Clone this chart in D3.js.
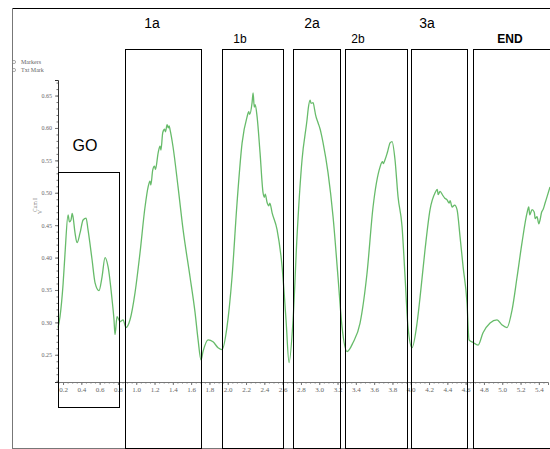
<!DOCTYPE html>
<html>
<head>
<meta charset="utf-8">
<script src="https://cdn.jsdelivr.net/npm/d3@7"></script>
<style>
  body { margin: 0; background: #fff; }
  svg { display: block; }
</style>
</head>
<body>
<svg id="chart"></svg>
<script>
// trace: time (x) and current (y)
const timeVals = [0.145, 0.167, 0.200, 0.222, 0.255, 0.270, 0.287, 0.300, 0.309, 0.331, 0.353, 0.386, 0.419, 0.452,
  0.473, 0.517, 0.550, 0.593, 0.626, 0.659, 0.692, 0.736, 0.757, 0.768, 0.790, 0.823, 0.856, 0.888, 0.932, 0.987,
  1.041, 1.096, 1.130, 1.150, 1.160, 1.180, 1.200, 1.210, 1.240, 1.260, 1.270, 1.290, 1.310, 1.320, 1.337, 1.350,
  1.360, 1.370, 1.402, 1.457, 1.512, 1.588, 1.643, 1.676, 1.708, 1.730, 1.785, 1.839, 1.894, 1.938, 1.992, 2.047,
  2.102, 2.157, 2.211, 2.230, 2.240, 2.266, 2.277, 2.290, 2.300, 2.321, 2.353, 2.386, 2.400, 2.410, 2.430, 2.450,
  2.460, 2.485, 2.539, 2.594, 2.637, 2.670, 2.714, 2.757, 2.812, 2.867, 2.880, 2.900, 2.910, 2.932, 2.950, 2.960,
  2.987, 3.010, 3.020, 3.042, 3.096, 3.151, 3.205, 3.249, 3.304, 3.370, 3.446, 3.523, 3.588, 3.665, 3.690, 3.700,
  3.719, 3.740, 3.750, 3.774, 3.796, 3.828, 3.861, 3.905, 3.938, 3.970, 4.014, 4.069, 4.102, 4.156, 4.211, 4.266,
  4.290, 4.300, 4.320, 4.350, 4.370, 4.397, 4.420, 4.430, 4.452, 4.480, 4.506, 4.539, 4.572, 4.615, 4.637, 4.681,
  4.736, 4.790, 4.867, 4.943, 4.998, 5.052, 5.107, 5.162, 5.216, 5.271, 5.290, 5.300, 5.326, 5.350, 5.360, 5.380,
  5.400, 5.413, 5.430, 5.446, 5.470, 5.490, 5.522];
const currentVals = [0.292, 0.309, 0.358, 0.407, 0.466, 0.455, 0.458, 0.468, 0.463, 0.438, 0.423, 0.438, 0.458, 0.461,
  0.443, 0.397, 0.361, 0.349, 0.370, 0.400, 0.386, 0.335, 0.304, 0.281, 0.309, 0.301, 0.304, 0.292, 0.304, 0.346,
  0.407, 0.478, 0.509, 0.518, 0.512, 0.535, 0.541, 0.536, 0.562, 0.572, 0.566, 0.593, 0.598, 0.594, 0.605, 0.600,
  0.603, 0.597, 0.571, 0.509, 0.443, 0.370, 0.315, 0.273, 0.242, 0.255, 0.273, 0.270, 0.261, 0.258, 0.293, 0.370,
  0.485, 0.577, 0.617, 0.625, 0.621, 0.639, 0.654, 0.632, 0.636, 0.617, 0.562, 0.500, 0.493, 0.498, 0.485, 0.480,
  0.484, 0.469, 0.443, 0.386, 0.304, 0.238, 0.304, 0.432, 0.551, 0.613, 0.630, 0.643, 0.638, 0.639, 0.628, 0.620,
  0.608, 0.598, 0.592, 0.577, 0.531, 0.463, 0.370, 0.293, 0.255, 0.269, 0.299, 0.377, 0.478, 0.540, 0.548, 0.545,
  0.551, 0.560, 0.565, 0.577, 0.579, 0.551, 0.494, 0.448, 0.370, 0.293, 0.261, 0.299, 0.339, 0.412, 0.474, 0.500,
  0.505, 0.497, 0.502, 0.496, 0.492, 0.489, 0.484, 0.488, 0.478, 0.481, 0.474, 0.432, 0.386, 0.330, 0.273, 0.269,
  0.265, 0.284, 0.299, 0.304, 0.296, 0.292, 0.319, 0.370, 0.423, 0.469, 0.478, 0.466, 0.474, 0.470, 0.460, 0.463,
  0.452, 0.458, 0.470, 0.474, 0.485, 0.494, 0.509];

const xTicks = [0.2, 0.4, 0.6, 0.8, 1.0, 1.2, 1.4, 1.6, 1.8, 2.0, 2.2, 2.4, 2.6, 2.8, 3.0, 3.2, 3.4, 3.6, 3.8, 4.0,
  4.2, 4.4, 4.6, 4.8, 5.0, 5.2, 5.4];
const yTicks = [0.25, 0.30, 0.35, 0.40, 0.45, 0.50, 0.55, 0.60, 0.65];

// phase boxes: label, start / end time
const phaseNames = ["GO", "1a", "1b", "2a", "2b", "3a", "END"];
const phaseStart = [0.145, 0.878, 1.938, 2.718, 3.282, 4.003, 4.681];
const phaseEnd = [0.812, 1.708, 2.605, 3.227, 3.960, 4.615, 5.600];

const legendItems = ["Markers", "Txt Mark"];

const W = 550, H = 449;
const svg = d3.select("#chart").attr("width", W).attr("height", H);

const x = d3.scaleLinear().domain([0.145, 5.5]).range([58, 548]);
const y = d3.scaleLinear().domain([0.208, 0.674]).range([382, 80]);

// outer frame
svg.append("line").attr("x1", 12).attr("x2", W).attr("y1", 8.5).attr("y2", 8.5).attr("stroke", "#000").attr("stroke-width", 1);
svg.append("line").attr("x1", 12.5).attr("x2", 12.5).attr("y1", 8).attr("y2", 448).attr("stroke", "#777").attr("stroke-width", 1);
svg.append("line").attr("x1", 12).attr("x2", W).attr("y1", 448.5).attr("y2", 448.5).attr("stroke", "#777").attr("stroke-width", 1);

// legend
const leg = svg.append("g").attr("font-family", "Liberation Serif").attr("font-size", 6).attr("fill", "#666");
legendItems.forEach((t, i) => {
  leg.append("circle").attr("cx", 14).attr("cy", 62 + i * 8).attr("r", 1.6).attr("fill", "none").attr("stroke", "#888").attr("stroke-width", 0.7);
  leg.append("text").attr("x", 21).attr("y", 64 + i * 8).text(t);
});

// axes
const axisColor = "#777";
const xAxis = svg.append("g").attr("transform", "translate(0,382)")
  .call(d3.axisBottom(x).tickValues(xTicks).tickSize(3).tickFormat(d3.format(".1f")));
xAxis.select(".domain").attr("stroke", axisColor);
xAxis.selectAll(".tick line").attr("stroke", axisColor);
xAxis.selectAll("text").attr("fill", "#666").attr("font-family", "Liberation Serif").attr("font-size", 7).attr("dy", "0.55em");
svg.append("g").attr("transform", "translate(0,382)")
  .call(d3.axisBottom(x).tickValues(d3.range(0.15, 5.5, 0.05)).tickSize(1.5).tickFormat(""))
  .call(g => g.select(".domain").remove())
  .selectAll("line").attr("stroke", axisColor);

const yAxis = svg.append("g").attr("transform", "translate(58,0)")
  .call(d3.axisLeft(y).tickValues(yTicks).tickSize(3).tickFormat(d3.format(".2f")));
yAxis.select(".domain").attr("stroke", "#333");
yAxis.selectAll(".tick line").attr("stroke", axisColor);
yAxis.selectAll("text").attr("fill", "#666").attr("font-family", "Liberation Serif").attr("font-size", 6);
svg.append("g").attr("transform", "translate(58,0)")
  .call(d3.axisLeft(y).tickValues(d3.range(0.21, 0.67, 0.01)).tickSize(1.5).tickFormat(""))
  .call(g => g.select(".domain").remove())
  .selectAll("line").attr("stroke", axisColor);

// y title
svg.append("text").attr("transform", "translate(37,212) rotate(-90)")
  .attr("font-family", "Liberation Serif").attr("font-size", 5.5).attr("fill", "#666").text("Cum I");
svg.append("text").attr("transform", "translate(42,214) rotate(-90)")
  .attr("font-family", "Liberation Serif").attr("font-size", 5.5).attr("fill", "#666").text("V");

// trace
const pts = timeVals.map((t, i) => [t, currentVals[i]]);
svg.append("path").datum(pts)
  .attr("fill", "none").attr("stroke", "#4caf50").attr("stroke-width", 1.3).attr("stroke-opacity", 0.85)
  .attr("d", d3.line().curve(d3.curveMonotoneX).x(d => x(d[0])).y(d => y(d[1])));

// phase boxes
phaseNames.forEach((name, i) => {
  const isGo = name === "GO";
  const top = isGo ? 172.5 : 49.5;
  const bottom = isGo ? 407.5 : 448.5;
  const x0 = Math.round(x(phaseStart[i])) + 0.5, x1 = Math.round(x(phaseEnd[i])) + 0.5;
  svg.append("rect").attr("x", x0).attr("y", top).attr("width", x1 - x0).attr("height", bottom - top)
    .attr("fill", "none").attr("stroke", "#000").attr("stroke-width", 1);
});

// phase labels
const labelPos = [[85, 151, 16], [152, 28, 14], [240, 43, 12], [312, 28, 14], [358, 43, 12], [427, 28, 14], [510, 43, 12]];
phaseNames.forEach((name, i) => {
  svg.append("text").attr("x", labelPos[i][0]).attr("y", labelPos[i][1])
    .attr("text-anchor", "middle").attr("font-family", "Liberation Sans, Arial").attr("font-size", labelPos[i][2])
    .attr("font-weight", name === "END" ? "bold" : "normal").attr("fill", "#000").text(name);
});
</script>
</body>
</html>
